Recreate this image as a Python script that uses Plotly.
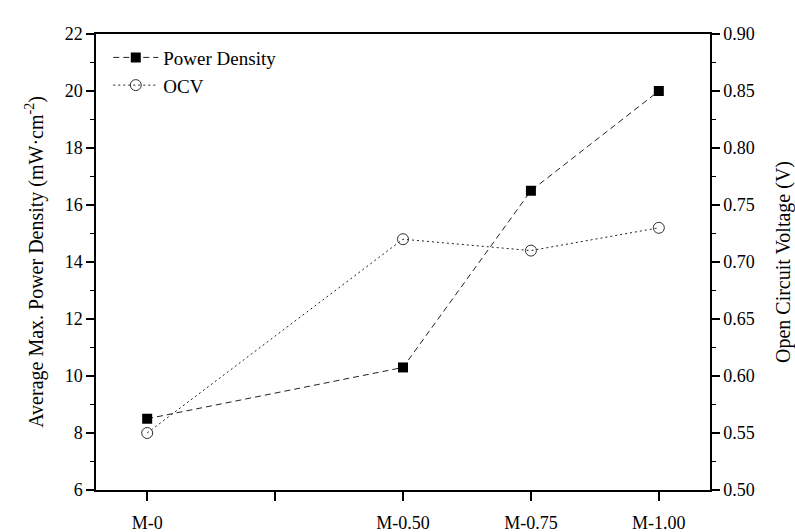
import plotly.graph_objects as go

categories = ["M-0", "M-0.50", "M-0.75", "M-1.00"]
composition = [0.0, 0.50, 0.75, 1.00]
power_density = [8.5, 10.3, 16.5, 20.0]
ocv = [0.55, 0.72, 0.71, 0.73]
x_unlabeled_ticks = [0.25]

FONT = "Liberation Serif"

fig = go.Figure()
fig.add_trace(go.Scatter(
    x=composition, y=power_density, name="Power Density",
    mode="lines+markers",
    line=dict(color="#222222", width=1, dash="6px,4px"),
    marker=dict(symbol="square", size=10, color="black"),
    hovertext=categories,
))
fig.add_trace(go.Scatter(
    x=composition, y=ocv, name="OCV", yaxis="y2",
    mode="lines+markers",
    line=dict(color="#222222", width=1, dash="2px,3px"),
    marker=dict(symbol="circle-open", size=11, color="#333333", line=dict(width=1)),
    hovertext=categories,
))

fig.update_layout(
    width=795, height=532,
    margin=dict(l=96, r=85, t=34, b=42),
    paper_bgcolor="white", plot_bgcolor="white",
    font=dict(family=FONT, size=18, color="black"),
    showlegend=True,
    legend=dict(x=0.02, y=0.99, xanchor="left", yanchor="top",
                bgcolor="rgba(0,0,0,0)", font=dict(size=19, family=FONT),
                itemwidth=45),
    xaxis=dict(
        range=[-0.1, 1.1], tickvals=composition, ticktext=categories,
        ticks="outside", ticklen=9, tickwidth=1.5, tickcolor="black",
        minor=dict(tickvals=x_unlabeled_ticks, ticks="outside", ticklen=9,
                   tickwidth=1.5, tickcolor="black"),
        showline=True, linecolor="black", linewidth=1.5, mirror=True,
        showgrid=False, zeroline=False, ticklabelstandoff=7,
        tickfont=dict(size=18, family=FONT), automargin=False,
    ),
    yaxis=dict(
        range=[6, 22], dtick=2, tick0=6,
        ticks="outside", ticklen=8, tickwidth=1.5, tickcolor="black",
        minor=dict(dtick=1, ticks="outside", ticklen=4, tickwidth=1, tickcolor="black"),
        showline=True, linecolor="black", linewidth=1.5,
        showgrid=False, zeroline=False, automargin=False,
        title=dict(text="Average Max. Power Density (mW·cm<sup>-2</sup>)",
                   font=dict(size=20, family=FONT), standoff=16),
        tickfont=dict(size=18, family=FONT),
    ),
    yaxis2=dict(
        range=[0.50, 0.90], dtick=0.05, tick0=0.5, tickformat=".2f",
        overlaying="y", side="right",
        ticks="outside", ticklen=8, tickwidth=1.5, tickcolor="black",
        minor=dict(dtick=0.025, ticks="outside", ticklen=4, tickwidth=1, tickcolor="black"),
        showline=True, linecolor="black", linewidth=1.5,
        showgrid=False, zeroline=False, automargin=False,
        title=dict(text="Open Circuit Voltage (V)",
                   font=dict(size=20, family=FONT), standoff=26),
        tickfont=dict(size=18, family=FONT),
    ),
)

# remove the browser's default 8px body margin so the figure sits at the page origin
fig.write_html("out.html", config={"displayModeBar": False},
               post_script="document.body.style.margin='0';")
